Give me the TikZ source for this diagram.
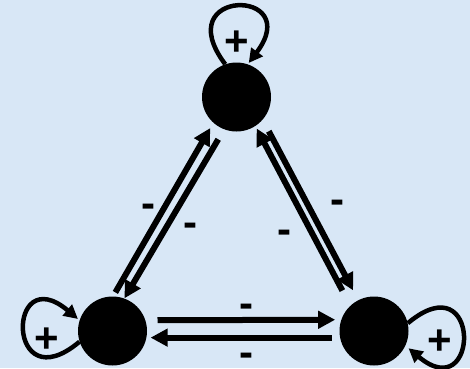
\documentclass[tikz,border=0pt]{standalone}
\usepackage{fontspec}
\setmainfont{Liberation Sans}
\usetikzlibrary{arrows.meta}
\definecolor{bg}{RGB}{216,231,246}
\begin{document}
\begin{tikzpicture}[x=1pt,y=1pt,
  dot/.style={circle,fill=black,inner sep=0pt,minimum size=69pt},
  edge/.style={line width=6pt,-{Triangle[length=17pt,width=17pt]}},
  selfloop/.style={line width=4.5pt,-{Triangle[length=14pt,width=14pt]}},
  sign/.style={font=\fontsize{42}{42}\selectfont\bfseries,inner sep=0pt},
  minus/.style={sign,yshift=-4.8pt},
  plus/.style={sign,yshift=-2.6pt}]
\fill[bg] (0,0) rectangle (470,368);
\useasboundingbox (0,0) rectangle (470,368);
\node[dot] (T) at (236.5,271) {};
\node[dot] (BL) at (112.5,37) {};
\node[dot] (BR) at (374,37) {};
% left pair
\draw[edge,shorten <=4.5pt,shorten >=6pt] (BL.89) -- (T.228);
\draw[edge,shorten <=11.5pt,shorten >=0pt] (T.249) -- (BL.70);
% right pair
\draw[edge,shorten <=17pt,shorten >=2.7pt] (BR.133.5) -- (T.303.5);
\draw[edge,shorten <=13pt,shorten >=11pt] (T.319.7) -- (BR.117.7);
% bottom pair
\draw[edge,shorten <=12pt,shorten >=6pt] (BL.18.6) -- (BR.161.4);
\draw[edge,shorten <=8pt,shorten >=4pt] (BR.191.7) -- (BL.-11.7);
% self loops
\draw[selfloop,shorten >=1.5pt] (T.109) .. controls +(127:96) and +(53:96) .. (T.71);
\draw[selfloop,shorten >=2pt] (BL.198) .. controls +(220:96) and +(140:96) .. (BL.162);
\draw[selfloop,shorten >=4pt] (BR.13) .. controls +(40:97) and +(-40:97) .. (BR.-25);
% labels
\node[plus] (pT) at (237,327) {+};
\node[plus] (pBL) at (47,30) {+};
\node[plus] (pBR) at (440,28) {+};
\node[minus] (m1) at (148,162) {-};
\node[minus] (m2) at (190,143) {-};
\node[minus] (m3) at (337,166) {-};
\node[minus] (m4) at (284,136) {-};
\node[minus] (m5) at (246,62) {-};
\node[minus] (m6) at (246,13) {-};
\end{tikzpicture}
\end{document}
